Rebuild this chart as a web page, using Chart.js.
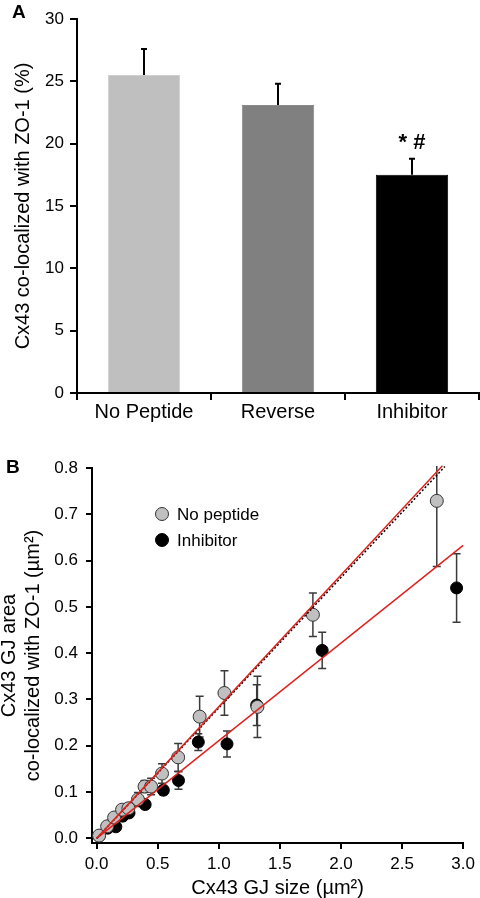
<!DOCTYPE html>
<html>
<head>
<meta charset="utf-8">
<script src="https://cdn.jsdelivr.net/npm/chart.js@4.4.1/dist/chart.umd.min.js"></script>
<style>
  html, body { margin: 0; padding: 0; background: #fff; }
  body { width: 480px; height: 898px; position: relative; overflow: hidden; }
  .panel { position: absolute; left: 0; width: 480px; }
  .tag { position: absolute; font: bold 19px "Liberation Sans", Arial, sans-serif; line-height: 22px; }
</style>
</head>
<body>
<div class="panel" style="top:0;height:430px"><canvas id="barChart" width="480" height="430"></canvas></div>
<div class="panel" style="top:440px;height:458px"><canvas id="scatterChart" width="480" height="458"></canvas></div>
<div class="tag" style="left:12px;top:1px">A</div>
<div class="tag" style="left:6px;top:456px">B</div>
<script>
// panel A - bar chart
const barLabels = ["No Peptide", "Reverse", "Inhibitor"];
const barMeans = [25.5, 23.1, 17.5];
const barErrors = [2.1, 1.7, 1.3];
const barColors = ["#bfbfbf", "#808080", "#000000"];
const barEdges = ["#cfcfcf", "#8a8a8a", "#000000"];
const sigMark = "* #";

// panel B - scatter with fits
const noPepX = [0.02, 0.086, 0.143, 0.208, 0.26, 0.338, 0.392, 0.446, 0.535, 0.667, 0.843, 1.046, 1.316, 1.77, 2.784];
const noPepY = [0.006, 0.026, 0.045, 0.062, 0.065, 0.084, 0.112, 0.112, 0.140, 0.175, 0.263, 0.314, 0.284, 0.483, 0.729];
const noPepErr = [0.003, 0.005, 0.006, 0.007, 0.009, 0.015, 0.013, 0.018, 0.021, 0.030, 0.044, 0.048, 0.066, 0.047, 0.142];

const inhX = [0.02, 0.09, 0.157, 0.213, 0.265, 0.397, 0.546, 0.670, 0.832, 1.067, 1.31, 1.846, 2.946];
const inhY = [0.005, 0.022, 0.025, 0.048, 0.055, 0.073, 0.104, 0.125, 0.208, 0.204, 0.288, 0.406, 0.541];
const inhErr = [0.003, 0.004, 0.005, 0.006, 0.007, 0.008, 0.010, 0.019, 0.018, 0.028, 0.044, 0.039, 0.074];

const fitNoPepX = [0.0, 2.83];
const fitNoPepY = [0.0, 0.805];
const fitDotX = [0.0, 2.85];
const fitDotY = [0.0, 0.803];
const fitInhX = [0.0, 3.0];
const fitInhY = [0.0, 0.633];

const xTicksB = [0, 0.5, 1.0, 1.5, 2.0, 2.5, 3.0];
const yTicksB = [0, 0.1, 0.2, 0.3, 0.4, 0.5, 0.6, 0.7, 0.8];
const legendNames = ["No peptide", "Inhibitor"];

const FONT = '"Liberation Sans", Arial, sans-serif';
Chart.defaults.font.family = FONT;
Chart.defaults.color = "#000";

const toPoints = (xs, ys) => xs.map((x, i) => ({ x: x, y: ys[i] }));

const axisGrid = (len) => ({ drawOnChartArea: false, color: "#000", lineWidth: 2, tickLength: len });
const axisBorder = { color: "#000", width: 2 };

const barErrorPlugin = {
  id: "barErrors",
  afterDatasetsDraw(chart) {
    const { ctx } = chart;
    const x = chart.scales.x;
    const y = chart.scales.y;
    ctx.save();
    ctx.strokeStyle = "#000";
    ctx.lineWidth = 2;
    barMeans.forEach((m, i) => {
      const px = x.getPixelForValue(i);
      const top = y.getPixelForValue(m + barErrors[i]);
      ctx.beginPath();
      ctx.moveTo(px, y.getPixelForValue(m));
      ctx.lineTo(px, top);
      ctx.moveTo(px - 3, top);
      ctx.lineTo(px + 3, top);
      ctx.stroke();
    });
    const k = 2;
    ctx.font = "bold 22px " + FONT;
    ctx.textAlign = "center";
    ctx.textBaseline = "middle";
    ctx.fillStyle = "#000";
    ctx.fillText(sigMark, x.getPixelForValue(k), y.getPixelForValue(barMeans[k] + barErrors[k]) - 16);
    ctx.restore();
  },
};

new Chart(document.getElementById("barChart"), {
  type: "bar",
  data: {
    labels: barLabels,
    datasets: [
      {
        data: barMeans,
        backgroundColor: barColors,
        borderColor: barEdges,
        borderWidth: 1,
        barPercentage: 0.54,
        categoryPercentage: 1,
      },
    ],
  },
  options: {
    responsive: false,
    animation: false,
    devicePixelRatio: 1,
    layout: { padding: { top: 19, right: 1, left: 0, bottom: 0 } },
    plugins: { legend: { display: false }, tooltip: { enabled: false } },
    scales: {
      x: {
        grid: Object.assign({ offset: true }, axisGrid(7)),
        border: axisBorder,
        ticks: { font: { size: 20 }, padding: 0, color: "#000" },
        afterFit: (s) => { s.height = 37; },
      },
      y: {
        min: 0,
        max: 30,
        grid: axisGrid(7),
        border: axisBorder,
        ticks: { stepSize: 5, font: { size: 17 }, padding: 6, color: "#000" },
        title: {
          display: true,
          text: "Cx43 co-localized with ZO-1 (%)",
          font: { size: 20 },
          color: "#000",
          padding: { top: 11, bottom: 0 },
        },
        afterFit: (s) => { s.width = 77; },
      },
    },
  },
  plugins: [barErrorPlugin],
});

// error bars + legend for panel B
const scatterExtras = {
  id: "scatterExtras",
  beforeDatasetsDraw(chart) {
    const { ctx, chartArea } = chart;
    const x = chart.scales.x;
    const y = chart.scales.y;
    ctx.save();
    ctx.beginPath();
    ctx.rect(chartArea.left, chartArea.top - 2, chartArea.right - chartArea.left, chartArea.bottom - chartArea.top + 2);
    ctx.clip();
    ctx.strokeStyle = "#3a3a3a";
    ctx.lineWidth = 1.5;
    const drawErr = (xs, ys, es) => {
      xs.forEach((v, i) => {
        const px = x.getPixelForValue(v);
        const t = y.getPixelForValue(ys[i] + es[i]);
        const b = y.getPixelForValue(ys[i] - es[i]);
        ctx.beginPath();
        ctx.moveTo(px, t);
        ctx.lineTo(px, b);
        ctx.moveTo(px - 4, t);
        ctx.lineTo(px + 4, t);
        ctx.moveTo(px - 4, b);
        ctx.lineTo(px + 4, b);
        ctx.stroke();
      });
    };
    drawErr(inhX, inhY, inhErr);
    drawErr(noPepX, noPepY, noPepErr);
    ctx.restore();
  },
  afterDraw(chart) {
    const { ctx, chartArea } = chart;
    const ds = [chart.data.datasets[3], chart.data.datasets[4]];
    ctx.save();
    ctx.font = "17px " + FONT;
    ctx.textBaseline = "middle";
    ctx.textAlign = "left";
    ds.forEach((d, i) => {
      const cx = chartArea.left + 70;
      const cy = chartArea.top + 46 + i * 26;
      ctx.beginPath();
      ctx.arc(cx, cy, 6.5, 0, Math.PI * 2);
      ctx.fillStyle = d.backgroundColor;
      ctx.fill();
      ctx.lineWidth = 1;
      ctx.strokeStyle = d.borderColor;
      ctx.stroke();
      ctx.fillStyle = "#000";
      ctx.fillText(legendNames[i], cx + 15, cy + 1);
    });
    ctx.restore();
  },
};

new Chart(document.getElementById("scatterChart"), {
  type: "scatter",
  data: {
    datasets: [
      {
        data: toPoints(fitNoPepX, fitNoPepY),
        showLine: true,
        borderColor: "#e0221e",
        borderWidth: 1.5,
        pointRadius: 0,
        clip: false,
      },
      {
        data: toPoints(fitDotX, fitDotY),
        showLine: true,
        borderColor: "#000",
        borderWidth: 1.5,
        borderDash: [2, 2],
        pointRadius: 0,
        clip: false,
      },
      {
        data: toPoints(fitInhX, fitInhY),
        showLine: true,
        borderColor: "#e0221e",
        borderWidth: 1.5,
        pointRadius: 0,
        clip: false,
      },
      {
        data: toPoints(noPepX, noPepY),
        pointRadius: 6.5,
        backgroundColor: "#c0c0c0",
        borderColor: "#333",
        borderWidth: 1,
      },
      {
        data: toPoints(inhX, inhY),
        pointRadius: 6,
        backgroundColor: "#000",
        borderColor: "#000",
        borderWidth: 1,
      },
    ],
  },
  options: {
    responsive: false,
    animation: false,
    devicePixelRatio: 1,
    layout: { padding: { top: 28, right: 13, left: 0, bottom: 0 } },
    plugins: { legend: { display: false }, tooltip: { enabled: false } },
    scales: {
      x: {
        type: "linear",
        min: -0.038,
        max: 3.0,
        grid: axisGrid(6),
        border: axisBorder,
        ticks: { font: { size: 17 }, padding: 5, color: "#000", callback: (v) => v.toFixed(1) },
        afterBuildTicks: (s) => { s.ticks = xTicksB.map((v) => ({ value: v })); },
        title: {
          display: true,
          text: "Cx43 GJ size (µm²)",
          font: { size: 20 },
          color: "#000",
          padding: { top: 0, bottom: -2 },
        },
        afterFit: (s) => { s.height = 55; },
      },
      y: {
        type: "linear",
        min: -0.01,
        max: 0.8,
        grid: axisGrid(6),
        border: axisBorder,
        ticks: { font: { size: 17 }, padding: 8, color: "#000", callback: (v) => v.toFixed(1) },
        afterBuildTicks: (s) => { s.ticks = yTicksB.map((v) => ({ value: v })); },
        title: {
          display: true,
          text: ["Cx43 GJ area", "co-localized with ZO-1 (µm²)"],
          font: { size: 20, lineHeight: 1.2 },
          color: "#000",
          padding: { top: -3, bottom: 0 },
        },
        afterFit: (s) => { s.width = 92; },
      },
    },
  },
  plugins: [scatterExtras],
});
</script>
</body>
</html>
